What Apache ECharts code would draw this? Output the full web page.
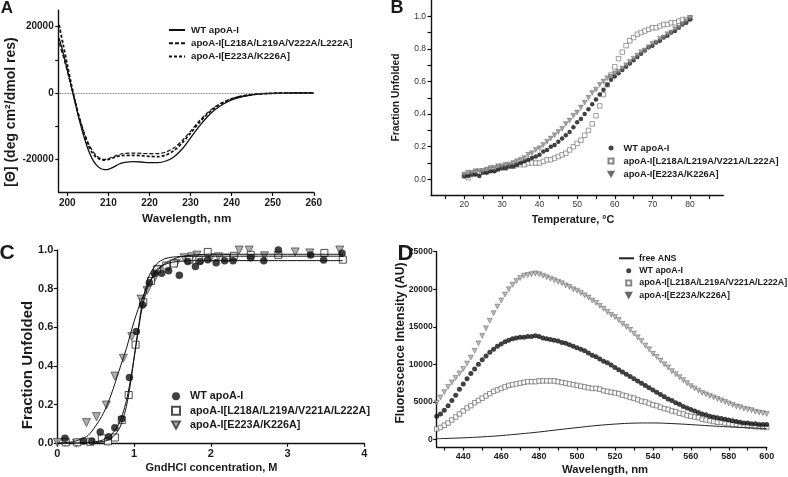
<!DOCTYPE html>
<html><head><meta charset="utf-8">
<script src="https://cdn.jsdelivr.net/npm/echarts@6/dist/echarts.min.js"></script>
<style>html,body{margin:0;padding:0;background:#fff}#c{width:788px;height:477px}</style>
</head><body><div id="c"></div>
<script>
// ---------- Panel A : CD spectra ----------
const cdWavelength = [198,199,200,201,202,203,204,205,206,207,208,209,210,211,212,213,214,216,218,220,222,224,226,228,230,232,234,236,238,240,242,244,246,248,250,252,255,260];
const cdWT   = [16500,12000,7000,1800,-3500,-8500,-13000,-16800,-19700,-21600,-22700,-23100,-23000,-22500,-21800,-21200,-20900,-20700,-20800,-21000,-21000,-20500,-19200,-16800,-13500,-10200,-7300,-5000,-3300,-2100,-1300,-750,-400,-200,-100,-50,0,0];
const cdL218 = [15000,11000,6500,1800,-3000,-7500,-11500,-14800,-17200,-18800,-19700,-20000,-19800,-19300,-18800,-18400,-18200,-18100,-18200,-18300,-18300,-17800,-16500,-14300,-11500,-8600,-6100,-4100,-2700,-1700,-1000,-600,-300,-150,-80,-30,0,0];
const cdE223 = [20500,14500,8500,2500,-3000,-8000,-12200,-15500,-17900,-19300,-20000,-20200,-20000,-19600,-19200,-18900,-18800,-18800,-18900,-19100,-19200,-18700,-17300,-15000,-12100,-9100,-6500,-4400,-2900,-1800,-1100,-650,-350,-180,-90,-40,0,0];
const cdXTicks = [200,210,220,230,240,250,260];
const cdYTicks = [-20000,-10000,0,10000,20000];
const cdYLabels = [-20000,0,20000];

// ---------- Panel B : thermal unfolding ----------
const tempC = [20,21,22,23,24,25,26,27,28,29,30,31,32,33,34,35,36,37,38,39,40,41,42,43,44,45,46,47,48,49,50,51,52,53,54,55,56,57,58,59,60,61,62,63,64,65,66,67,68,69,70,71,72,73,74,75,76,77,78,79,80];
const thWT = [0.02,0.02,0.03,0.03,0.02,0.04,0.04,0.05,0.05,0.06,0.07,0.07,0.08,0.08,0.09,0.10,0.11,0.12,0.13,0.14,0.15,0.17,0.18,0.20,0.21,0.23,0.25,0.27,0.29,0.32,0.35,0.37,0.40,0.43,0.46,0.49,0.52,0.55,0.58,0.61,0.63,0.65,0.67,0.69,0.71,0.73,0.75,0.77,0.79,0.81,0.82,0.84,0.85,0.87,0.88,0.90,0.91,0.93,0.95,0.96,0.98];
const thL218 = [0.02,0.01,0.03,0.04,0.04,0.05,0.05,0.06,0.06,0.07,0.07,0.07,0.08,0.08,0.09,0.09,0.09,0.10,0.10,0.10,0.10,0.11,0.12,0.12,0.13,0.14,0.15,0.16,0.18,0.20,0.22,0.24,0.27,0.30,0.34,0.39,0.45,0.52,0.58,0.64,0.69,0.74,0.78,0.82,0.85,0.87,0.89,0.90,0.91,0.92,0.93,0.93,0.94,0.95,0.95,0.96,0.96,0.97,0.98,0.98,0.99];
const thE223 = [0.03,0.04,0.04,0.05,0.05,0.05,0.06,0.07,0.07,0.08,0.08,0.09,0.09,0.10,0.11,0.12,0.13,0.15,0.16,0.18,0.19,0.21,0.23,0.25,0.27,0.29,0.31,0.34,0.36,0.39,0.41,0.44,0.47,0.50,0.53,0.55,0.58,0.60,0.62,0.63,0.65,0.66,0.68,0.70,0.72,0.74,0.76,0.78,0.79,0.81,0.83,0.84,0.86,0.87,0.89,0.90,0.92,0.93,0.95,0.97,0.99];
const thXTicks = [15,20,25,30,35,40,45,50,55,60,65,70,75,80,85];
const thXLabels = [20,30,40,50,60,70,80];
const thYTicks = [0,0.1,0.2,0.3,0.4,0.5,0.6,0.7,0.8,0.9,1.0];
const thYLabels = [0,0.2,0.4,0.6,0.8,1.0];

// ---------- Panel C : GndHCl denaturation ----------
const gdWTx = [0.10,0.34,0.45,0.56,0.67,0.75,0.84,0.94,1.03,1.11,1.20,1.27,1.36,1.45,1.59,1.70,1.80,1.86,1.96,2.07,2.18,2.29,2.52,2.69,2.88,3.30,3.47,3.71];
const gdWTy = [0.026,0.012,0.010,0.058,0.034,0.081,0.127,0.340,0.578,0.715,0.830,0.880,0.880,0.893,0.870,0.940,0.915,0.940,0.950,0.934,0.945,0.945,0.960,0.945,1.000,0.974,0.948,0.983];
const gdL218x = [0.11,0.26,0.43,0.58,0.66,0.75,0.84,0.93,1.02,1.12,1.22,1.30,1.42,1.52,1.72,1.85,1.96,2.20,2.30,2.52,2.88,3.48,3.72];
const gdL218y = [0.005,0.005,0.008,0.026,0.010,0.030,0.120,0.250,0.510,0.730,0.840,0.900,0.920,0.930,0.950,0.950,0.990,0.960,0.970,0.975,0.975,0.985,0.950];
const gdE223x = [0.00,0.10,0.25,0.38,0.51,0.64,0.75,0.86,0.97,1.09,1.17,1.27,1.32,1.45,1.55,1.65,1.75,1.82,2.00,2.10,2.37,2.50,2.70,3.10,3.29,3.68];
const gdE223y = [0.005,0.005,0.000,0.107,0.138,0.198,0.348,0.440,0.552,0.746,0.790,0.857,0.900,0.910,0.930,0.960,0.965,0.974,0.960,0.965,1.000,1.000,0.970,0.990,0.985,1.000];
const fitX    = [0,0.1,0.2,0.3,0.4,0.5,0.6,0.7,0.8,0.85,0.9,0.95,1.0,1.05,1.1,1.15,1.2,1.3,1.4,1.5,1.6,1.8,2.0,2.5,3.0,3.5,3.72];
const fitWT   = [0,0,0.001,0.002,0.004,0.008,0.018,0.042,0.10,0.15,0.22,0.32,0.44,0.57,0.69,0.77,0.83,0.90,0.925,0.937,0.942,0.945,0.945,0.945,0.945,0.945,0.945];
const fitL218 = [0,0,0,0.001,0.002,0.004,0.009,0.025,0.07,0.12,0.19,0.30,0.44,0.58,0.71,0.80,0.87,0.93,0.955,0.963,0.966,0.968,0.968,0.968,0.968,0.968,0.968];
const fitE223 = [0,0.003,0.008,0.02,0.04,0.09,0.155,0.25,0.37,0.43,0.49,0.56,0.63,0.69,0.745,0.79,0.83,0.89,0.93,0.95,0.965,0.975,0.978,0.978,0.978,0.978,0.978];

// ---------- Panel D : ANS fluorescence ----------
const flWave = [426,428,430,432,434,436,438,440,442,444,446,448,450,452,454,456,458,460,462,464,466,468,470,472,474,476,478,480,482,484,486,488,490,492,494,496,498,500,502,504,506,508,510,512,514,516,518,520,522,524,526,528,530,532,534,536,538,540,542,544,546,548,550,552,554,556,558,560,562,564,566,568,570,572,574,576,578,580,582,584,586,588,590,592,594,596,598,600];
const flWT = [3100,3400,3900,4500,5200,5900,6700,7400,8100,8800,9400,10000,10600,11100,11600,12000,12400,12700,13000,13200,13400,13500,13600,13600,13700,13700,13800,13700,13500,13400,13300,13200,13100,12900,12800,12600,12400,12200,12000,11800,11500,11200,11000,10700,10400,10200,9900,9600,9300,9000,8700,8400,8100,7800,7500,7200,6900,6600,6300,6000,5700,5400,5200,4900,4700,4400,4200,4000,3800,3600,3400,3300,3100,3000,2900,2800,2700,2600,2500,2400,2300,2200,2200,2100,2100,2000,2000,2000];
const flL218 = [1400,1600,1900,2200,2600,3000,3400,3800,4200,4500,4900,5200,5500,5800,6100,6400,6600,6800,7000,7200,7300,7400,7500,7600,7700,7700,7700,7800,7800,7800,7800,7800,7700,7600,7500,7400,7300,7200,7100,7000,6900,6800,6800,6700,6500,6400,6300,6200,6100,5900,5800,5600,5500,5300,5100,5000,4800,4600,4500,4300,4100,4000,3800,3700,3500,3400,3200,3100,3000,2900,2700,2600,2500,2400,2300,2300,2200,2100,2000,2000,1900,1900,1800,1800,1700,1700,1600,1600];
const flE223 = [4900,5600,6300,7000,7600,8200,8800,9400,10100,10900,11800,12800,13800,14800,15800,16800,17700,18500,19300,20000,20600,21100,21500,21800,21900,22000,22100,22000,21800,21600,21400,21200,21000,20800,20500,20300,20000,19800,19500,19200,18900,18500,18200,17800,17400,17000,16600,16300,15900,15400,15000,14600,14100,13600,13100,12500,12000,11400,11000,10500,10000,9600,9100,8700,8300,7900,7500,7100,6800,6500,6200,6000,5800,5600,5400,5200,5000,4800,4600,4400,4300,4100,4000,3900,3700,3600,3500,3400];
const ansWave = [426,430,440,450,460,470,480,490,500,510,520,530,540,550,560,570,580,590,600];
const ansFree = [100,130,220,350,520,750,1000,1300,1580,1850,2050,2180,2200,2120,1980,1820,1680,1560,1450];
const flXTicks = [430,440,450,460,470,480,490,500,510,520,530,540,550,560,570,580,590,600];
const flXLabels = [440,460,480,500,520,540,560,580,600];
const flYTicks = [0,5000,10000,15000,20000,25000];

// ---------- helpers ----------
const FONT = '"Liberation Sans", Arial, Helvetica, sans-serif';
const TXT = '#1a1a1a';
const AX = '#111';
const CLEAR = 'rgba(0,0,0,0)';
const zip = (xs, ys) => xs.map((x, i) => [x, ys[i]]);
const downTri = 'path://M0,0L10,0L5,9Z';

function vAxis(o) {
  return {
    type: 'value', gridIndex: o.g, min: o.min, max: o.max, position: o.pos,
    axisLine: { show: true, onZero: false, lineStyle: { color: AX, width: 1.4 } },
    axisTick: { show: true, customValues: o.ticks, length: o.tl || 3.5, lineStyle: { color: AX, width: 1.2 } },
    axisLabel: { customValues: o.labels, fontSize: o.fs, fontWeight: o.fw || 'bold', color: o.lc || TXT,
                 fontFamily: FONT, margin: o.m, formatter: o.fmt || (v => String(v)) },
    splitLine: { show: false }
  };
}
const gtext = (t, x, y, fs, rot) => ({
  type: 'text', x: x, y: y, rotation: rot ? Math.PI / 2 : 0, silent: true,
  style: { text: t, fontSize: fs, fontWeight: 'bold', fontFamily: FONT, fill: TXT, align: 'center', verticalAlign: 'middle' }
});
const lgText = (fs, pad) => ({ fontSize: fs, fontWeight: 'bold', color: TXT, fontFamily: FONT, lineHeight: 10, padding: [0, 0, 0, pad || 0] });
const strip = n => n.split('|')[1];
const lg = (o) => Object.assign({ orient: 'vertical', padding: 0, selectedMode: false, formatter: strip }, o);

const chart = echarts.init(document.getElementById('c'), null, { renderer: 'canvas' });
chart.setOption({
  animation: false,
  backgroundColor: '#fff',
  grid: [
    { left: 58.7, top: 10.1, width: 255.1, height: 182.4, outerBoundsMode: 'none' },
    { left: 431, top: 0, width: 292.3, height: 195.6, outerBoundsMode: 'none' },
    { left: 57.3, top: 250, width: 307, height: 193.3, outerBoundsMode: 'none' },
    { left: 436.7, top: 251.7, width: 330, height: 195.3, outerBoundsMode: 'none' }
  ],
  xAxis: [
    vAxis({ g: 0, min: 197.9, max: 260, pos: 'bottom', ticks: cdXTicks, labels: cdXTicks, fs: 10, m: 6 }),
    vAxis({ g: 1, min: 11.16, max: 88.84, pos: 'bottom', ticks: thXTicks, labels: thXLabels, fs: 8.5, fw: 'normal', lc: '#333', m: 5 }),
    vAxis({ g: 2, min: 0, max: 4, pos: 'bottom', ticks: [0,1,2,3,4], labels: [0,1,2,3,4], fs: 11, m: 5 }),
    vAxis({ g: 3, min: 426, max: 600, pos: 'bottom', ticks: flXTicks, labels: flXLabels, fs: 9, m: 5 })
  ],
  yAxis: [
    vAxis({ g: 0, min: -30000, max: 25000, pos: 'left', ticks: cdYTicks, labels: cdYLabels, fs: 10, m: 5 }),
    vAxis({ g: 1, min: -0.1, max: 1.1, pos: 'left', ticks: thYTicks, labels: thYLabels, fs: 8.5, fw: 'normal', lc: '#333', m: 5, fmt: v => v.toFixed(1) }),
    vAxis({ g: 2, min: 0, max: 1, pos: 'left', ticks: [0,0.2,0.4,0.6,0.8,1.0], labels: [0,0.2,0.4,0.6,0.8,1.0], fs: 11, m: 4, fmt: v => v.toFixed(1) }),
    vAxis({ g: 3, min: -1000, max: 25000, pos: 'left', ticks: flYTicks, labels: flYTicks, fs: 8.6, m: 4 })
  ],
  legend: [
    lg({ left: 168, top: 25, itemWidth: 16, itemHeight: 10, itemGap: 3.3, textStyle: lgText(9.7, 1),
      data: ['A|WT apoA-I', 'A|apoA-I[L218A/L219A/V222A/L222A]', 'A|apoA-I[E223A/K226A]'] }),
    lg({ left: 607.5, top: 143, itemWidth: 5, itemHeight: 5, itemGap: 3, textStyle: lgText(9.3, 5),
      data: ['B|WT apoA-I', 'B|apoA-I[L218A/L219A/V221A/L222A]', 'B|apoA-I[E223A/K226A]'] }),
    lg({ left: 171, top: 390.7, itemWidth: 8, itemHeight: 8, itemGap: 3.5, textStyle: lgText(10.8, 5),
      data: ['C|WT apoA-I', 'C|apoA-I[L218A/L219A/V221A/L222A]', 'C|apoA-I[E223A/K226A]'] }),
    lg({ left: 618, top: 253.3, itemWidth: 15, itemHeight: 10, itemGap: 2.2, textStyle: lgText(8.9, 0),
      data: ['D|free ANS'] }),
    lg({ left: 625.2, top: 265.7, itemWidth: 5, itemHeight: 5, itemGap: 2.2, textStyle: lgText(8.9, 3),
      data: ['D|WT apoA-I', 'D|apoA-I[L218A/L219A/V221A/L222A]', 'D|apoA-I[E223A/K226A]'] })
  ],
  graphic: [
    gtext('A', 7, 8, 17), gtext('B', 397, 8.5, 18), gtext('C', 7, 253.5, 21), gtext('D', 405.5, 253.5, 22),
    gtext('[Θ] (deg cm²/dmol res)', 10.7, 112, 14, true),
    gtext('Wavelength, nm', 186.7, 219, 11.7),
    gtext('Fraction Unfolded', 396, 97.5, 10.3, true),
    gtext('Temperature, °C', 573, 220, 10.8),
    gtext('Fraction Unfolded', 28, 365, 15, true),
    gtext('GndHCl concentration, M', 211.5, 467.7, 11),
    gtext('Fluorescence Intensity (AU)', 400.5, 343, 12.2, true),
    gtext('Wavelength, nm', 605, 470, 11.3)
  ],
  series: [
    // Panel A
    { name: 'A|WT apoA-I', type: 'line', xAxisIndex: 0, yAxisIndex: 0, data: zip(cdWavelength, cdWT),
      smooth: 0.3, symbol: 'circle', showSymbol: false, lineStyle: { color: '#111', width: 1.3 }, itemStyle: { color: CLEAR, borderWidth: 0 },
      markLine: { silent: true, symbol: 'none', label: { show: false }, animation: false,
                  lineStyle: { type: 'dotted', color: '#444', width: 0.8 }, data: [{ yAxis: 0 }] } },
    { name: 'A|apoA-I[L218A/L219A/V222A/L222A]', type: 'line', xAxisIndex: 0, yAxisIndex: 0, data: zip(cdWavelength, cdL218),
      smooth: 0.3, symbol: 'circle', showSymbol: false, lineStyle: { color: '#111', width: 1.2, type: [4, 2] }, itemStyle: { color: CLEAR, borderWidth: 0 } },
    { name: 'A|apoA-I[E223A/K226A]', type: 'line', xAxisIndex: 0, yAxisIndex: 0, data: zip(cdWavelength, cdE223),
      smooth: 0.3, symbol: 'circle', showSymbol: false, lineStyle: { color: '#111', width: 1.8, type: [3, 2] }, itemStyle: { color: CLEAR, borderWidth: 0 } },
    // Panel B
    { name: 'B|apoA-I[L218A/L219A/V221A/L222A]', type: 'scatter', xAxisIndex: 1, yAxisIndex: 1, data: zip(tempC, thL218),
      symbol: 'rect', symbolSize: 4.5, itemStyle: { color: '#fff', borderColor: '#666', borderWidth: 0.8 } },
    { name: 'B|WT apoA-I', type: 'scatter', xAxisIndex: 1, yAxisIndex: 1, data: zip(tempC, thWT),
      symbol: 'circle', symbolSize: 4.5, itemStyle: { color: '#111' } },
    { name: 'B|apoA-I[E223A/K226A]', type: 'scatter', xAxisIndex: 1, yAxisIndex: 1, data: zip(tempC, thE223),
      symbol: downTri, symbolSize: 5, itemStyle: { color: '#888', borderColor: '#555', borderWidth: 0.4 } },
    // Panel C fits
    { name: 'fitWT', type: 'line', xAxisIndex: 2, yAxisIndex: 2, data: zip(fitX, fitWT), smooth: 0.3, symbol: 'none',
      lineStyle: { color: '#111', width: 1 }, silent: true },
    { name: 'fitL218', type: 'line', xAxisIndex: 2, yAxisIndex: 2, data: zip(fitX, fitL218), smooth: 0.3, symbol: 'none',
      lineStyle: { color: '#111', width: 1 }, silent: true },
    { name: 'fitE223', type: 'line', xAxisIndex: 2, yAxisIndex: 2, data: zip(fitX, fitE223), smooth: 0.3, symbol: 'none',
      lineStyle: { color: '#111', width: 1 }, silent: true },
    // Panel C points
    { name: 'C|apoA-I[E223A/K226A]', type: 'scatter', xAxisIndex: 2, yAxisIndex: 2, data: zip(gdE223x, gdE223y), clip: false,
      symbol: downTri, symbolSize: 8, itemStyle: { color: '#999', borderColor: '#333', borderWidth: 0.8 } },
    { name: 'C|apoA-I[L218A/L219A/V221A/L222A]', type: 'scatter', xAxisIndex: 2, yAxisIndex: 2, data: zip(gdL218x, gdL218y), clip: false,
      symbol: 'rect', symbolSize: 7, itemStyle: { color: '#fff', borderColor: '#222', borderWidth: 1 } },
    { name: 'C|WT apoA-I', type: 'scatter', xAxisIndex: 2, yAxisIndex: 2, data: zip(gdWTx, gdWTy), clip: false,
      symbol: 'circle', symbolSize: 7.5, itemStyle: { color: '#111' } },
    // Panel D
    { name: 'D|free ANS', type: 'line', xAxisIndex: 3, yAxisIndex: 3, data: zip(ansWave, ansFree), smooth: 0.4,
      symbol: 'circle', showSymbol: false, lineStyle: { color: '#222', width: 1 }, itemStyle: { color: CLEAR, borderWidth: 0 } },
    { name: 'D|apoA-I[L218A/L219A/V221A/L222A]', type: 'scatter', xAxisIndex: 3, yAxisIndex: 3, data: zip(flWave, flL218),
      symbol: 'rect', symbolSize: 4.5, itemStyle: { color: '#fff', borderColor: '#666', borderWidth: 0.9 } },
    { name: 'D|WT apoA-I', type: 'scatter', xAxisIndex: 3, yAxisIndex: 3, data: zip(flWave, flWT),
      symbol: 'circle', symbolSize: 5, itemStyle: { color: '#111' } },
    { name: 'D|apoA-I[E223A/K226A]', type: 'scatter', xAxisIndex: 3, yAxisIndex: 3, data: zip(flWave, flE223),
      symbol: downTri, symbolSize: 5, itemStyle: { color: '#aaa', borderColor: '#444', borderWidth: 0.5 } }
  ]
});
</script></body></html>
